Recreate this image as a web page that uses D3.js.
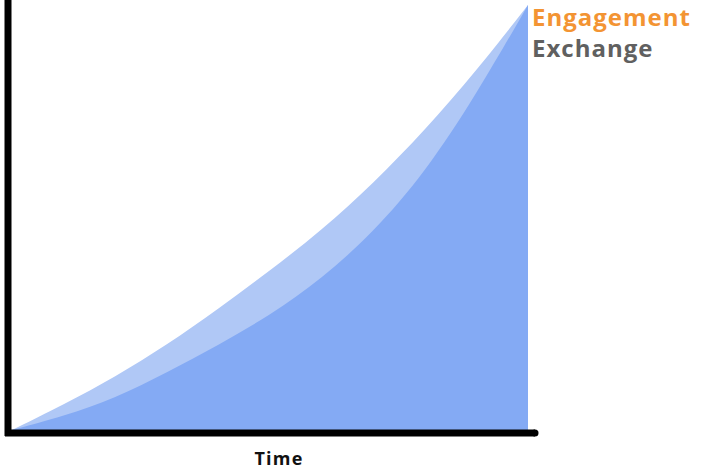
<!DOCTYPE html>
<html>
<head>
<meta charset="utf-8">
<script src="https://cdn.jsdelivr.net/npm/d3@7"></script>
<style>
  body { margin: 0; background: #fff; }
  svg { display: block; }
  text { font-family: "Open Sans", sans-serif; font-weight: bold; }
</style>
</head>
<body>
<svg id="chart" width="701" height="470"></svg>
<script>
var width = 701;
var height = 470;

// time steps and the two growth curves (0..100)
var time = [0, 1, 2, 3, 4, 5, 6, 7, 8, 9, 10];
var engagement = [0, 6, 12.5, 20, 28.5, 37.5, 47, 58, 70.5, 84.5, 100];
var exchange = [0, 3.2, 7.5, 13.5, 20, 27, 35.5, 46.5, 60.5, 79, 100];
var labels = ["Engagement", "Exchange"];
var labelColors = ["#f39433", "#606060"];

var svg = d3.select("#chart");

var x = d3.scaleLinear().domain([0, 10]).range([12, 528]);
var y = d3.scaleLinear().domain([0, 100]).range([430, 5]);

var area = function(vals) {
  return d3.area()
    .x(function(d, i) { return x(time[i]); })
    .y0(y(0))
    .y1(function(d) { return y(d); })
    .curve(d3.curveBasis)(vals);
};

// outer (lighter) area first, then the inner one on top
svg.append("path")
  .attr("d", area(engagement))
  .attr("fill", "#b0c8f6");

svg.append("path")
  .attr("d", area(exchange))
  .attr("fill", "#84aaf4");

// axes: plain thick black lines, no ticks
svg.append("line")
  .attr("x1", 8).attr("x2", 8)
  .attr("y1", 0).attr("y2", 436)
  .attr("stroke", "#000")
  .attr("stroke-width", 7);

svg.append("line")
  .attr("x1", 5).attr("x2", 535)
  .attr("y1", 433).attr("y2", 433)
  .attr("stroke", "#000")
  .attr("stroke-width", 7);

svg.append("circle")
  .attr("cx", 535).attr("cy", 433).attr("r", 3.5)
  .attr("fill", "#000");

svg.append("text")
  .attr("x", 279)
  .attr("y", 465)
  .attr("text-anchor", "middle")
  .attr("font-size", 18)
  .attr("letter-spacing", 1.2)
  .attr("fill", "#111")
  .text("Time");

svg.selectAll(".lbl")
  .data(labels)
  .enter().append("text")
  .attr("class", "lbl")
  .attr("x", 532)
  .attr("y", function(d, i) { return 26 + i * 31; })
  .attr("font-size", 24)
  .attr("letter-spacing", 1)
  .attr("fill", function(d, i) { return labelColors[i]; })
  .text(function(d) { return d; });
</script>
</body>
</html>
